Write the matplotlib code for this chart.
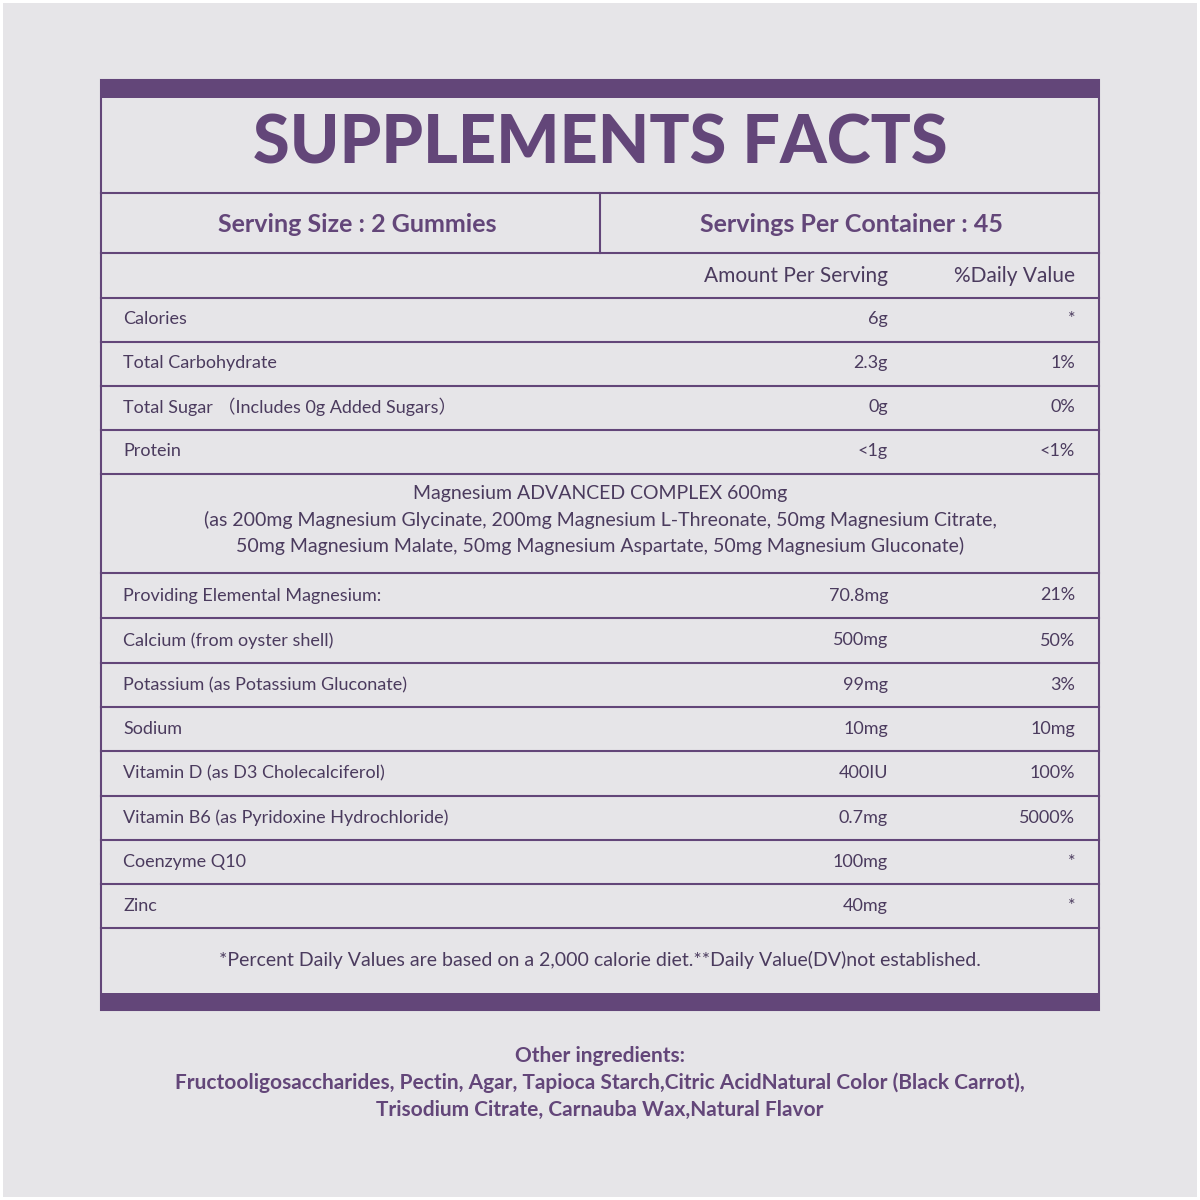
import matplotlib
matplotlib.use("Agg")
import matplotlib.pyplot as plt
from matplotlib.patches import Rectangle

title = "SUPPLEMENTS FACTS"
serving_size = "Serving Size : 2 Gummies"
servings_per = "Servings Per Container : 45"
col_headers = ["Amount Per Serving", "%Daily Value"]
top_names = ["Calories", "Total Carbohydrate", "Total Sugar （Includes 0g Added Sugars）", "Protein"]
top_amounts = ["6g", "2.3g", "0g", "<1g"]
top_dvs = ["*", "1%", "0%", "<1%"]
complex_lines = ["Magnesium ADVANCED COMPLEX 600mg",
                 "(as 200mg Magnesium Glycinate, 200mg Magnesium L-Threonate, 50mg Magnesium Citrate,",
                 "50mg Magnesium Malate, 50mg Magnesium Aspartate, 50mg Magnesium Gluconate)"]
bot_names = ["Providing Elemental Magnesium:", "Calcium (from oyster shell)", "Potassium (as Potassium Gluconate)",
             "Sodium", "Vitamin D (as D3 Cholecalciferol)", "Vitamin B6 (as Pyridoxine Hydrochloride)",
             "Coenzyme Q10", "Zinc"]
bot_amounts = ["70.8mg", "500mg", "99mg", "10mg", "400IU", "0.7mg", "100mg", "40mg"]
bot_dvs = ["21%", "50%", "3%", "10mg", "100%", "5000%", "*", "*"]
footnote = "*Percent Daily Values are based on a 2,000 calorie diet.**Daily Value(DV)not established."
other = ["Other ingredients:",
         "Fructooligosaccharides, Pectin, Agar, Tapioca Starch,Citric AcidNatural Color (Black Carrot),",
         "Trisodium Citrate, Carnauba Wax,Natural Flavor"]

BG = "#e6e5e8"; PUR = "#634679"; TXT = "#4b3b5e"
FONT = ["Lato", "Noto Sans CJK SC", "DejaVu Sans"]

fig = plt.figure(figsize=(12, 12), dpi=100)
fig.patch.set_facecolor("white")
ax = fig.add_axes([0, 0, 1, 1])
ax.set_xlim(0, 1200); ax.set_ylim(1200, 0); ax.axis("off")
ax.add_patch(Rectangle((3, 3), 1194, 1194, facecolor=BG, edgecolor="none"))

L, R = 101, 1099
ax.add_patch(Rectangle((L, 80), R - L, 930, facecolor="none", edgecolor=PUR, lw=1.5))
ax.add_patch(Rectangle((L, 80), R - L, 18, facecolor=PUR, edgecolor="none"))
ax.add_patch(Rectangle((L, 993), R - L, 17, facecolor=PUR, edgecolor="none"))

def hl(y):
    ax.plot([L, R], [y, y], color=PUR, lw=1.5)

def t(x, y, s, ha="left", size=14, w="normal", c=TXT):
    ax.text(x, y, s, ha=ha, va="center", fontsize=size, fontweight=w, color=c, family=FONT)

t(600, 145, title, "center", 48, "black", PUR)
hl(193)
ax.plot([600, 600], [193, 253], color=PUR, lw=1.5)
t(357, 225, serving_size, "center", 18, "bold", PUR)
t(851, 225, servings_per, "center", 18, "bold", PUR)
hl(253)
t(888, 276, col_headers[0], "right", 15)
t(1075, 276, col_headers[1], "right", 15)
hl(298)

ys = [298, 342, 386, 430, 474]
for i, (n, a, d) in enumerate(zip(top_names, top_amounts, top_dvs)):
    yc = (ys[i] + ys[i + 1]) / 2 - 1
    t(123, yc, n, size=13); t(888, yc, a, "right", 13); t(1075, yc, d, "right", 13)
    hl(ys[i + 1])
for k, s in enumerate(complex_lines):
    t(600, 494 + k * 26, s, "center", 14)
hl(573)
ys2 = [573, 618, 663, 707, 751, 796, 840, 884, 928]
for i, (n, a, d) in enumerate(zip(bot_names, bot_amounts, bot_dvs)):
    yc = (ys2[i] + ys2[i + 1]) / 2
    t(123, yc, n, size=13); t(888, yc, a, "right", 13); t(1075, yc, d, "right", 13)
    hl(ys2[i + 1])
t(600, 960, footnote, "center", 14)
for k, s in enumerate(other):
    t(490 if False else 600, 1056 + k * 27, s, "center", 15, "bold", PUR)

fig.savefig("out.png", dpi=100)
